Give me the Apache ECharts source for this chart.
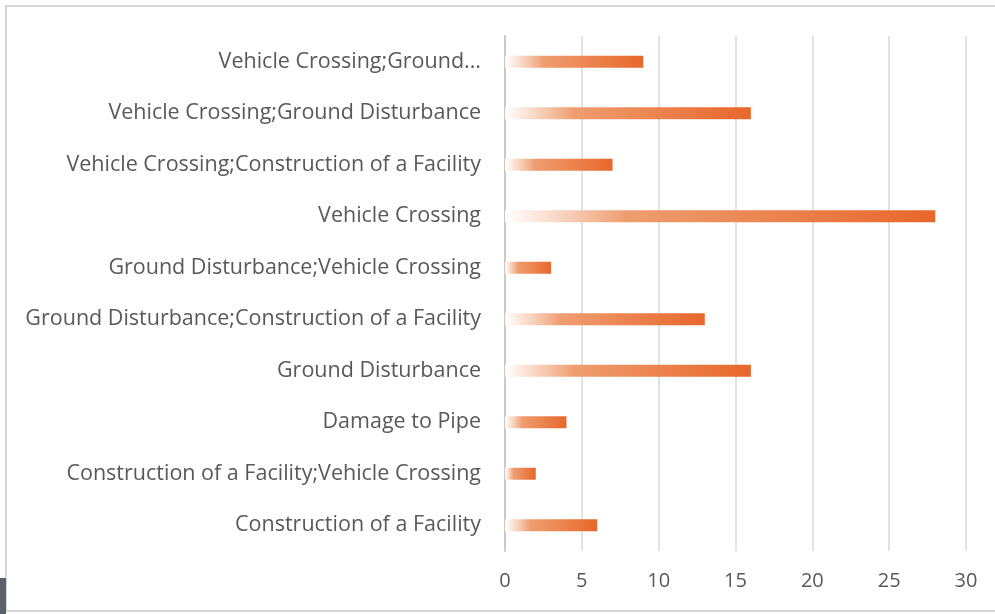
<!DOCTYPE html>
<html>
<head>
<meta charset="utf-8">
<script src="https://cdn.jsdelivr.net/npm/echarts@6/dist/echarts.min.js"></script>
<style>
  html, body { margin: 0; padding: 0; background: #fff; }
  #frame {
    position: absolute; left: 5px; top: 5px; width: 995px; height: 603px;
    border-top: 2px solid #d6d6d6; border-left: 2px solid #d6d6d6; border-bottom: 2px solid #d6d6d6;
  }
  #corner { position: absolute; left: 0; top: 578px; width: 6px; height: 36px; background: #5b606b; }
  #chart { position: absolute; left: 0; top: 0; width: 995px; height: 614px; }
</style>
</head>
<body>
<div id="frame"></div>
<div id="corner"></div>
<div id="chart"></div>
<script>
// categories listed bottom to top
const categories = [
  'Construction of a Facility',
  'Construction of a Facility;Vehicle Crossing',
  'Damage to Pipe',
  'Ground Disturbance',
  'Ground Disturbance;Construction of a Facility',
  'Ground Disturbance;Vehicle Crossing',
  'Vehicle Crossing',
  'Vehicle Crossing;Construction of a Facility',
  'Vehicle Crossing;Ground Disturbance',
  'Vehicle Crossing;Ground...'
]
const counts = [6, 2, 4, 16, 13, 3, 28, 7, 16, 9]
const xTicks = { min: 0, max: 30, interval: 5 }

const chart = echarts.init(document.getElementById('chart'))

const option = {
  animation: false,
  grid: {
    left: 505,
    right: 29,
    top: 36,
    bottom: 63
  },
  xAxis: {
    type: 'value',
    min: xTicks.min,
    max: xTicks.max,
    interval: xTicks.interval,
    axisLine: { show: false },
    axisTick: { show: false },
    axisLabel: {
      color: '#595959',
      fontSize: 20,
      fontFamily: 'Open Sans',
      margin: 20
    },
    splitLine: {
      lineStyle: { color: '#d9d9d9', width: 1.5 }
    }
  },
  yAxis: {
    type: 'category',
    data: categories,
    axisLine: {
      show: true,
      lineStyle: { color: '#c9c9c9', width: 2 }
    },
    axisTick: { show: false },
    axisLabel: {
      color: '#595959',
      fontSize: 21.5,
      fontFamily: 'Open Sans',
      margin: 24
    }
  },
  series: [
    {
      type: 'bar',
      data: counts,
      barWidth: 12,
      itemStyle: {
        color: new echarts.graphic.LinearGradient(0, 0, 1, 0, [
          { offset: 0, color: 'rgba(255, 255, 255, 0.9)' },
          { offset: 0.28, color: '#ef9d70' },
          { offset: 1, color: '#e8672b' }
        ])
      }
    }
  ]
}

chart.setOption(option)
</script>
</body>
</html>
